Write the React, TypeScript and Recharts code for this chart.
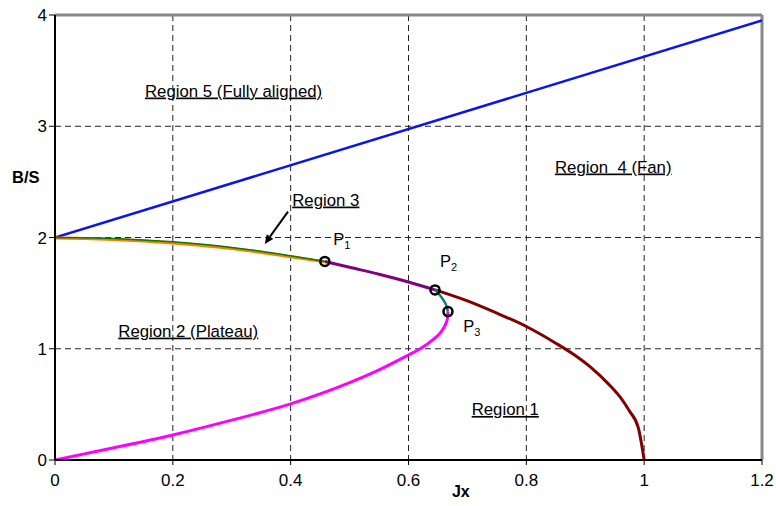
import React from 'react';
import { LineChart, Line, XAxis, YAxis, CartesianGrid, ReferenceLine, ReferenceDot, Label } from 'recharts';

const xTicks = [0, 0.2, 0.4, 0.6, 0.8, 1, 1.2];
const yTicks = [0, 1, 2, 3, 4];

// Region 5 / Region 4 boundary (blue)
const fullyAlignedBoundary = [
  { x: 0, y: 2 },
  { x: 1.2, y: 3.95 },
];

// Region 3 boundary, orange and green traces (0 -> P1)
const region3Orange = [
  { x: 0, y: 1.996 }, { x: 0.05, y: 1.991 }, { x: 0.1, y: 1.981 }, { x: 0.15, y: 1.968 },
  { x: 0.2, y: 1.951 }, { x: 0.25, y: 1.929 }, { x: 0.3, y: 1.901 }, { x: 0.35, y: 1.866 },
  { x: 0.4, y: 1.826 }, { x: 0.458, y: 1.781 },
];
const region3Green = [
  { x: 0, y: 2.0 }, { x: 0.05, y: 1.998 }, { x: 0.1, y: 1.99 }, { x: 0.15, y: 1.978 },
  { x: 0.2, y: 1.961 }, { x: 0.25, y: 1.939 }, { x: 0.3, y: 1.911 }, { x: 0.35, y: 1.876 },
  { x: 0.4, y: 1.835 }, { x: 0.458, y: 1.785 },
];

// P1 -> P2 (purple)
const p1ToP2 = [
  { x: 0.458, y: 1.785 }, { x: 0.5, y: 1.732 }, { x: 0.55, y: 1.67 },
  { x: 0.6, y: 1.6 }, { x: 0.645, y: 1.529 },
];

// P2 -> P3 (teal)
const p2ToP3 = [
  { x: 0.645, y: 1.529 }, { x: 0.652, y: 1.49 }, { x: 0.659, y: 1.44 },
  { x: 0.664, y: 1.39 }, { x: 0.667, y: 1.334 },
];

// Region 1 boundary, P2 -> (1, 0) (dark red)
const region1Boundary = [
  { x: 0.645, y: 1.529 }, { x: 0.7, y: 1.43 }, { x: 0.75, y: 1.32 }, { x: 0.8, y: 1.2 },
  { x: 0.85, y: 1.05 }, { x: 0.88, y: 0.95 }, { x: 0.91, y: 0.83 }, { x: 0.94, y: 0.68 },
  { x: 0.96, y: 0.56 }, { x: 0.975, y: 0.44 }, { x: 0.99, y: 0.29 }, { x: 1.0, y: 0 },
];

// Region 2 boundary, origin -> P3 (magenta)
const plateauBoundary = [
  { x: 0, y: 0 }, { x: 0.05, y: 0.055 }, { x: 0.1, y: 0.11 }, { x: 0.2, y: 0.225 },
  { x: 0.3, y: 0.358 }, { x: 0.4, y: 0.504 }, { x: 0.5, y: 0.695 }, { x: 0.55, y: 0.81 },
  { x: 0.6, y: 0.944 }, { x: 0.62, y: 1.0 }, { x: 0.64, y: 1.075 }, { x: 0.655, y: 1.15 },
  { x: 0.662, y: 1.21 }, { x: 0.666, y: 1.27 }, { x: 0.667, y: 1.334 },
];

const keyPoints = [
  { x: 0.458, y: 1.785 },
  { x: 0.645, y: 1.529 },
  { x: 0.667, y: 1.334 },
];

const regionLabels = [
  { text: 'Region 5 (Fully aligned)', x: 0.1527, y: 3.267 },
  { text: 'Region  4 (Fan)', x: 0.8486, y: 2.584 },
  { text: 'Region 3', x: 0.4027, y: 2.287 },
  { text: 'Region 2 (Plateau)', x: 0.1074, y: 1.109 },
  { text: 'Region 1', x: 0.7072, y: 0.405 },
];

const pointLabels = [
  { main: 'P', sub: '1', x: 0.4723, y: 1.933 },
  { main: 'P', sub: '2', x: 0.6534, y: 1.738 },
  { main: 'P', sub: '3', x: 0.693, y: 1.154 },
];

const arrowSegment = [
  { x: 0.3955, y: 2.233 },
  { x: 0.356, y: 1.942 },
];

const FONT = '"Liberation Sans", Arial, Helvetica, sans-serif';

const ArrowShape = (p: any) => {
  const { x1, y1, x2, y2 } = p;
  const dx = x2 - x1;
  const dy = y2 - y1;
  const len = Math.sqrt(dx * dx + dy * dy) || 1;
  const ux = dx / len;
  const uy = dy / len;
  const hl = 9;
  const hw = 4;
  const bx = x2 - ux * hl;
  const by = y2 - uy * hl;
  const pts = `${x2},${y2} ${bx - uy * hw},${by + ux * hw} ${bx + uy * hw},${by - ux * hw}`;
  return (
    <g>
      <line x1={x1} y1={y1} x2={bx} y2={by} stroke="#000" strokeWidth={2} />
      <polygon points={pts} fill="#000" />
    </g>
  );
};

export default function App() {
  return (
    <div style={{ position: 'absolute', left: 0, top: 0, width: 776, height: 506, background: '#fff' }}>
      <LineChart
        width={776}
        height={506}
        margin={{ top: 15, right: 14, bottom: 0, left: 0 }}
        style={{ fontFamily: FONT }}
      >
        <CartesianGrid stroke="#222" strokeDasharray="6 4" strokeWidth={1} />
        <XAxis
          dataKey="x"
          type="number"
          domain={[0, 1.2]}
          ticks={xTicks}
          height={46}
          tickSize={5}
          tickMargin={9}
          axisLine={{ stroke: '#000', strokeWidth: 2 }}
          tickLine={{ stroke: '#000', strokeWidth: 1 }}
          tick={{ fill: '#000', fontSize: 17, fontFamily: FONT }}
          allowDataOverflow
        >
          <Label
            content={(props: any) => {
              const vb = props.viewBox || { x: 55, y: 460, width: 707 };
              return (
                <text x={vb.x + vb.width * 0.574} y={vb.y + 37} textAnchor="middle" fontSize={16} fontWeight="bold" fontFamily={FONT} fill="#000">
                  Jx
                </text>
              );
            }}
          />
        </XAxis>
        <YAxis
          dataKey="y"
          type="number"
          domain={[0, 4]}
          ticks={yTicks}
          width={55}
          tickSize={6}
          tickMargin={2}
          axisLine={{ stroke: '#000', strokeWidth: 2 }}
          tickLine={{ stroke: '#000', strokeWidth: 1 }}
          tick={{ fill: '#000', fontSize: 17, fontFamily: FONT }}
          allowDataOverflow
        >
          <Label
            content={(props: any) => {
              const vb = props.viewBox || { x: 0, y: 15, width: 55, height: 445 };
              return (
                <text x={vb.x + 12} y={vb.y + 168} textAnchor="start" fontSize={16.5} fontWeight="bold" fontFamily={FONT} fill="#000">
                  B/S
                </text>
              );
            }}
          />
        </YAxis>
        <ReferenceLine y={4} stroke="#888" strokeWidth={3} />
        <ReferenceLine x={1.2} stroke="#888" strokeWidth={3} />

        <Line data={fullyAlignedBoundary} dataKey="y" type="linear" stroke="#0a14ec" strokeWidth={2.5} dot={false} isAnimationActive={false} />
        <Line data={plateauBoundary} dataKey="y" type="monotone" stroke="#ff00ff" strokeWidth={3} dot={false} isAnimationActive={false} />
        <Line data={region1Boundary} dataKey="y" type="monotone" stroke="#800000" strokeWidth={3} dot={false} isAnimationActive={false} />
        <Line data={p1ToP2} dataKey="y" type="monotone" stroke="#800080" strokeWidth={3} dot={false} isAnimationActive={false} />
        <Line data={region3Orange} dataKey="y" type="monotone" stroke="#ff7a00" strokeWidth={3} dot={false} isAnimationActive={false} />
        <Line data={region3Green} dataKey="y" type="monotone" stroke="#008000" strokeWidth={1.5} dot={false} isAnimationActive={false} />
        <Line data={p2ToP3} dataKey="y" type="monotone" stroke="#008080" strokeWidth={2.5} dot={false} isAnimationActive={false} />

        {keyPoints.map((p, i) => (
          <ReferenceDot key={'kp' + i} x={p.x} y={p.y} r={4.5} fill="none" stroke="#000" strokeWidth={2.5} />
        ))}

        {regionLabels.map((l, i) => (
          <ReferenceDot
            key={'rl' + i}
            x={l.x}
            y={l.y}
            r={1}
            shape={(p: any) => (
              <text
                x={p.cx}
                y={p.cy}
                fontSize={16.8}
                fontFamily={FONT}
                fill="#000"
                textDecoration="underline"
                style={{ whiteSpace: 'pre' }}
              >
                {l.text}
              </text>
            )}
          />
        ))}

        {pointLabels.map((l, i) => (
          <ReferenceDot
            key={'pl' + i}
            x={l.x}
            y={l.y}
            r={1}
            shape={(p: any) => (
              <text x={p.cx} y={p.cy} fontSize={16.5} fontFamily={FONT} fill="#000">
                {l.main}
                <tspan fontSize={11} dy={4}>{l.sub}</tspan>
              </text>
            )}
          />
        ))}

        <ReferenceLine segment={arrowSegment} shape={ArrowShape} ifOverflow="visible" />
      </LineChart>
    </div>
  );
}
